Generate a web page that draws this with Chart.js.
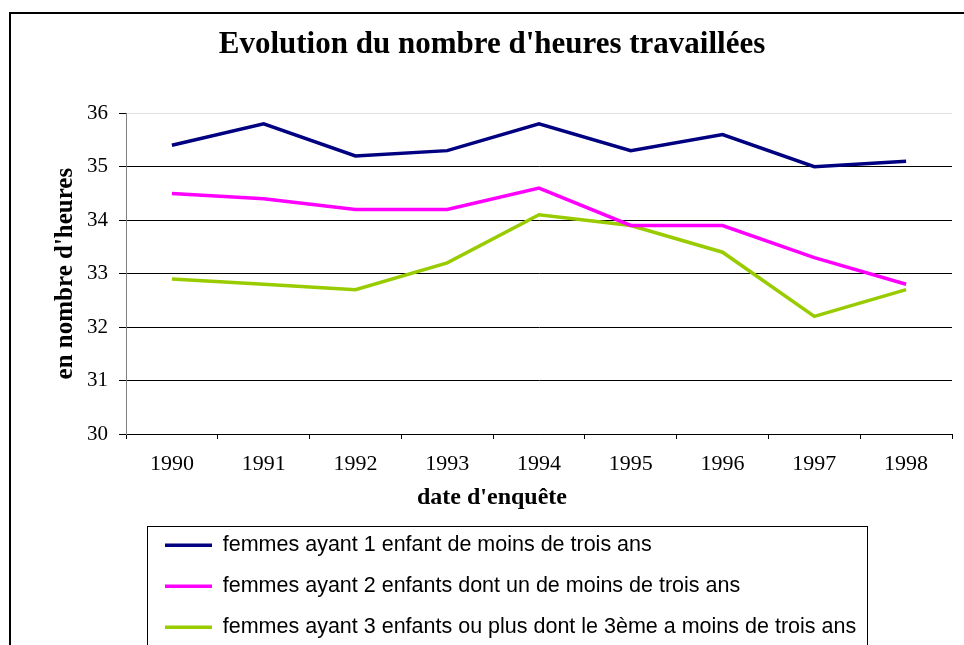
<!DOCTYPE html>
<html>
<head>
<meta charset="utf-8">
<script src="https://cdn.jsdelivr.net/npm/chart.js@4"></script>
<style>
  html, body { margin: 0; padding: 0; background: #fff; overflow: hidden; }
  #wrap { width: 964px; height: 645px; overflow: hidden; }
</style>
</head>
<body>
<div id="wrap"><canvas id="hoursChart" width="964" height="658"></canvas></div>
<script>
// Data
const years = ['1990', '1991', '1992', '1993', '1994', '1995', '1996', '1997', '1998'];
const oneChild = [35.4, 35.8, 35.2, 35.3, 35.8, 35.3, 35.6, 35.0, 35.1];
const twoChildren = [34.5, 34.4, 34.2, 34.2, 34.6, 33.9, 33.9, 33.3, 32.8];
const threeChildren = [32.9, 32.8, 32.7, 33.2, 34.1, 33.9, 33.4, 32.2, 32.7];
const seriesNames = [
    'femmes ayant 1 enfant de moins de trois ans',
    'femmes ayant 2 enfants dont un de moins de trois ans',
    'femmes ayant 3 enfants ou plus dont le 3ème a moins de trois ans'
];
const yTicks = [30, 31, 32, 33, 34, 35, 36];

const serif = "'Liberation Serif', 'Times New Roman', serif";
const sans = "'Liberation Sans', Arial, sans-serif";

// Outer frame and the box round the legend
const framePlugin = {
    id: 'frames',
    afterLayout(chart) {
        // push legend rows to the right, like the original
        chart.legend.left = 165 - chart.legend.options.labels.padding;
    },
    beforeDraw(chart) {
        const ctx = chart.ctx;
        ctx.save();
        ctx.fillStyle = '#fff';
        ctx.fillRect(0, 0, chart.width, chart.height);
        ctx.strokeStyle = '#000';
        ctx.lineWidth = 2;
        ctx.strokeRect(10, 13, chart.width + 20, chart.height + 20);
        ctx.restore();
    },
    afterDraw(chart) {
        const boxes = chart.legend.legendHitBoxes;
        if (!boxes || !boxes.length) return;
        const left = Math.min(...boxes.map(b => b.left)) - 18;
        const right = Math.max(...boxes.map(b => b.left + b.width)) + 11;
        const top = boxes[0].top - 9;
        const ctx = chart.ctx;
        ctx.save();
        ctx.strokeStyle = '#000';
        ctx.lineWidth = 1;
        ctx.strokeRect(Math.round(left) + 0.5, Math.round(top) + 0.5, Math.round(right - left), chart.height);
        ctx.restore();
    }
};

const ctx = document.getElementById('hoursChart').getContext('2d');
new Chart(ctx, {
    type: 'line',
    data: {
        labels: years,
        datasets: [
            { label: seriesNames[0], data: oneChild, borderColor: '#000080', backgroundColor: '#000080', borderWidth: 3.5 },
            { label: seriesNames[1], data: twoChildren, borderColor: '#FF00FF', backgroundColor: '#FF00FF', borderWidth: 3.5 },
            { label: seriesNames[2], data: threeChildren, borderColor: '#99CC00', backgroundColor: '#99CC00', borderWidth: 3.5 }
        ]
    },
    options: {
        responsive: false,
        animation: false,
        layout: { padding: { left: 32, right: 12, top: 12, bottom: 10 } },
        elements: {
            line: { tension: 0 },
            point: { radius: 0, hoverRadius: 0 }
        },
        scales: {
            x: {
                type: 'category',
                offset: true,
                grid: { display: true, offset: true, drawOnChartArea: false, drawTicks: true, tickLength: 5, color: '#000', tickColor: '#000' },
                border: { display: true, color: '#000', width: 1 },
                ticks: { color: '#000', padding: 12, maxRotation: 0, font: { family: serif, size: 22 } },
                afterFit(scale) { scale.height = 49.2; }
            },
            y: {
                min: 30,
                max: 36,
                afterBuildTicks(scale) { scale.ticks = yTicks.map(v => ({ value: v })); },
                grid: {
                    color: c => (c.tick && c.tick.value === 36 ? '#e0e0e0' : '#000'),
                    tickColor: '#000',
                    tickLength: 7,
                    lineWidth: 1
                },
                border: { display: true, color: '#808080', width: 1 },
                ticks: { color: '#000', padding: 11, font: { family: serif, size: 21 } },
                title: {
                    display: true,
                    text: "en nombre d'heures",
                    color: '#000',
                    padding: { top: 19, bottom: 0 },
                    font: { family: serif, size: 25, weight: 'bold' }
                },
                afterFit(scale) { scale.width = 94; }
            }
        },
        plugins: {
            title: {
                display: true,
                text: "Evolution du nombre d'heures travaillées",
                color: '#000',
                padding: { top: 14, bottom: 50 },
                font: { family: serif, size: 31, weight: 'bold' }
            },
            subtitle: {
                display: true,
                position: 'bottom',
                weight: 500,
                text: "date d'enquête",
                color: '#000',
                padding: { top: 0, bottom: 3 },
                font: { family: serif, size: 24, weight: 'bold' }
            },
            legend: {
                position: 'bottom',
                align: 'start',
                labels: {
                    usePointStyle: true,
                    pointStyle: 'line',
                    pointStyleWidth: 47,
                    padding: 19.5,
                    color: '#000',
                    font: { family: sans, size: 21.5 }
                }
            },
            tooltip: { enabled: false }
        }
    },
    plugins: [framePlugin]
});
</script>
</body>
</html>
